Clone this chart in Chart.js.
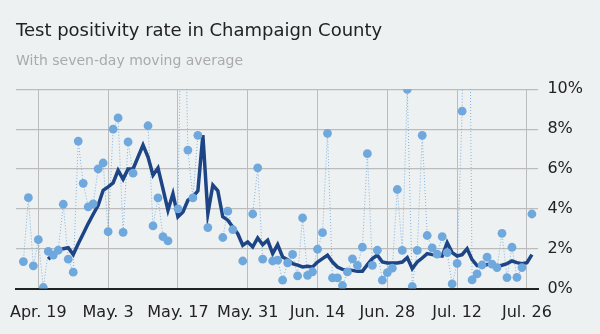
<!DOCTYPE html>
<html>
<head>
<meta charset="utf-8">
<script src="https://cdn.jsdelivr.net/npm/chart.js@4"></script>
<style>
  html, body { margin: 0; padding: 0; background: #eef1f2; }
  #wrap { position: relative; width: 600px; height: 334px; }
</style>
</head>
<body>
<div id="wrap"><canvas id="chart"></canvas></div>
<script>
// days counted from Apr. 19; the daily series starts 3 days earlier (Apr. 16)
const firstDay = -3;
const tickDays = [0, 14, 28, 42, 56, 70, 84, 98];
const tickLabels = ['Apr. 19', 'May. 3', 'May. 17', 'May. 31', 'Jun. 14', 'Jun. 28', 'Jul. 12', 'Jul. 26'];

// daily test positivity, percent (null = no report)
const positivity = [
    1.35, 4.56, 1.14, 2.45, 0.05, 1.86, 1.68, 1.92, 4.23, 1.47,
    0.82, 7.4, 5.28, 4.1, 4.25, 6.0, 6.3, 2.85, 8.0, 8.56,
    2.82, 7.36, 5.79, null, null, 8.17, 3.14, 4.55, 2.6, 2.39,
    null, 4.0, 19.5, 6.95, 4.55, 7.69, null, 3.06, null, null,
    2.56, 3.88, 2.96, null, 1.38, null, 3.74, 6.06, 1.47, null,
    1.38, 1.42, 0.42, 1.29, 1.71, 0.63, 3.54, 0.66, 0.84, 1.97,
    2.8, 7.79, 0.53, 0.53, 0.15, 0.83, 1.49, 1.16, 2.08, 6.77,
    1.16, 1.92, 0.42, 0.8, 1.02, 4.97, 1.91, 10.0, 0.1, 1.91,
    7.69, 2.66, 2.04, 1.73, 2.6, 1.8, 0.23, 1.26, 8.9, 30.0,
    0.43, 0.73, 1.18, 1.57, 1.22, 1.05, 2.77, 0.55, 2.07, 0.56,
    1.05, null, 3.74
];

// seven-day moving average, percent
const movingAvg = [
    null, null, null, null, null, 1.47, 1.75, 1.92, 2.0, 2.05,
    1.7, 2.25, 2.75, 3.26, 3.73, 4.18, 4.93, 5.1, 5.3, 5.93,
    5.49, 6.0, 6.0, 6.6, 7.2, 6.6, 5.69, 6.05, 5.0, 3.93,
    4.76, 3.6, 3.84, 4.43, 4.6, 4.9, 7.7, 3.76, 5.19, 4.9,
    3.6, 3.43, 3.09, 2.75, 2.17, 2.34, 2.09, 2.54, 2.2, 2.42,
    1.75, 2.2, 1.58, 1.45, 1.25, 1.17, 1.08, 1.12, 1.08, 1.33,
    1.5, 1.67, 1.33, 1.08, 0.96, 0.94, 0.91, 0.86, 0.86, 1.2,
    1.5, 1.67, 1.33, 1.28, 1.28, 1.28, 1.33, 1.55, 1.0, 1.33,
    1.53, 1.75, 1.7, 1.67, 1.63, 2.3, 1.8, 1.63, 1.7, 2.0,
    1.45, 1.15, 1.13, 1.2, 1.2, 1.12, 1.17, 1.25, 1.38, 1.3,
    1.25, 1.3, 1.7
];

const yTicks = [0, 2, 4, 6, 8, 10];

const toPoints = arr => arr.map((v, i) => ({ x: firstDay + i, y: v }));

const FONT = "'DejaVu Sans', Verdana, sans-serif";
const DOT = '#6fa8dc';
const NAVY = '#1d4484';
const GRID = '#bcbcbc';

Chart.defaults.font.family = FONT;
Chart.defaults.color = '#222';

new Chart(document.getElementById('chart'), {
    type: 'line',
    data: {
        datasets: [
            {
                // thin dotted link between daily values
                data: toPoints(positivity),
                borderColor: 'rgba(111,168,220,0.85)',
                borderWidth: 1,
                borderDash: [1, 2],
                pointRadius: 0,
                spanGaps: false,
                order: 3
            },
            {
                data: toPoints(movingAvg),
                borderColor: NAVY,
                borderWidth: 3.5,
                borderJoinStyle: 'miter',
                pointRadius: 0,
                order: 2
            },
            {
                data: toPoints(positivity),
                showLine: false,
                pointRadius: 4.4,
                pointBackgroundColor: DOT,
                pointBorderWidth: 0,
                order: 1
            }
        ]
    },
    options: {
        responsive: true,
        maintainAspectRatio: false,
        animation: false,
        events: [],
        layout: { padding: { left: 16, right: 17, top: 0, bottom: 11 } },
        plugins: {
            legend: { display: false },
            tooltip: { enabled: false },
            title: {
                display: true,
                text: 'Test positivity rate in Champaign County',
                align: 'start',
                color: '#222',
                font: { size: 18, weight: 'normal' },
                padding: { top: 21, bottom: 5 }
            },
            subtitle: {
                display: true,
                text: 'With seven-day moving average',
                align: 'start',
                color: '#aaaaaa',
                font: { size: 14, weight: 'normal' },
                padding: { top: 5, bottom: 19.9 }
            }
        },
        scales: {
            x: {
                type: 'linear',
                min: -4.48,
                max: 100.3,
                afterBuildTicks: axis => {
                    axis.ticks = tickDays.map(v => ({ value: v }));
                },
                afterFit: axis => {
                    axis.height = 34.5;
                    axis.paddingLeft = 0;
                    axis.paddingRight = 0;
                },
                grid: { color: GRID, lineWidth: 1, drawTicks: false },
                border: { display: true, color: '#222', width: 2 },
                ticks: {
                    autoSkip: false,
                    maxRotation: 0,
                    padding: 15,
                    font: { size: 16 },
                    color: '#222',
                    callback: value => tickLabels[tickDays.indexOf(value)]
                }
            },
            y: {
                position: 'right',
                min: 0,
                max: 10,
                afterBuildTicks: axis => {
                    axis.ticks = yTicks.map(v => ({ value: v }));
                },
                afterFit: axis => {
                    axis.width = 44.6;
                },
                grid: { color: GRID, lineWidth: 1.2, drawTicks: false },
                border: { display: false },
                ticks: {
                    padding: 9,
                    font: { size: 16 },
                    color: '#222',
                    callback: value => value + '%'
                }
            }
        }
    }
});
</script>
</body>
</html>
